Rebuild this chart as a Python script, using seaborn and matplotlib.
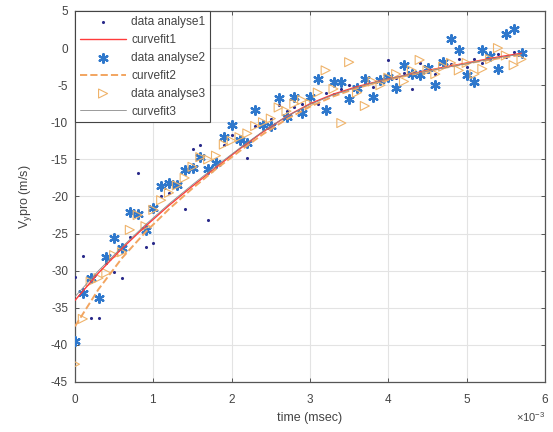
import numpy as np
import pandas as pd
import matplotlib
matplotlib.use("Agg")
import matplotlib.pyplot as plt
import seaborn as sns
from matplotlib.ticker import ScalarFormatter

# ---- data (time in ms, converted to s for plotting) ----
t_ms = [0.0, 0.1, 0.2, 0.3, 0.4, 0.5, 0.6, 0.7, 0.8, 0.9,
        1.0, 1.1, 1.2, 1.3, 1.4, 1.5, 1.6, 1.7, 1.8, 1.9,
        2.0, 2.1, 2.2, 2.3, 2.4, 2.5, 2.6, 2.7, 2.8, 2.9,
        3.0, 3.1, 3.2, 3.3, 3.4, 3.5, 3.6, 3.7, 3.8, 3.9,
        4.0, 4.1, 4.2, 4.3, 4.4, 4.5, 4.6, 4.7, 4.8, 4.9,
        5.0, 5.1, 5.2, 5.3, 5.4, 5.5, 5.6, 5.7]

data1 = [-30.8, -28.0, -36.4, -36.4, -29.0, -30.2, -31.0, -25.5, -16.9, -26.8,
         -26.3, -20.0, -19.5, -18.0, -21.7, -13.6, -13.0, -23.2, -15.0, -13.0,
         -11.7, -12.0, -14.8, -10.5, -10.0, -9.5, -7.7, -8.5, -8.0, -7.5,
         -7.0, -7.6, -6.0, -6.2, -5.5, -5.0, -5.8, -4.5, -5.2, -4.2,
         -1.6, -4.0, -3.3, -5.5, -2.0, -3.2, -3.5, -2.5, -2.2, -1.5,
         -2.5, -1.5, -2.0, -1.5, -0.8, -1.2, -0.5, -1.0]

data2 = [-39.5, -33.0, -31.0, -33.7, -28.2, -25.6, -27.0, -22.1, -22.3, -24.5,
         -21.5, -18.6, -18.2, -18.4, -16.4, -16.2, -14.7, -16.3, -15.5, -12.0,
         -10.4, -12.4, -12.8, -8.3, -10.4, -10.5, -6.7, -9.3, -6.6, -8.8,
         -6.6, -4.1, -8.3, -4.6, -4.6, -6.8, -5.4, -4.2, -6.6, -4.3,
         -3.9, -5.4, -2.3, -3.5, -3.6, -2.7, -5.0, -1.9, 1.2, -0.2,
         -3.6, -4.6, -0.2, -1.1, -2.8, 1.9, 2.6, -0.7]

data3 = [-42.6, -36.5, -31.5, -31.0, -30.3, -27.9, -27.5, -24.5, -22.5, -24.0,
         -21.8, -20.5, -19.5, -18.5, -17.5, -16.0, -14.7, -15.0, -14.5, -13.0,
         -12.5, -12.0, -11.5, -10.5, -10.0, -9.5, -8.0, -8.5, -7.5, -7.0,
         -7.5, -6.0, -3.0, -5.5, -10.1, -1.9, -6.0, -7.8, -4.5, -5.0,
         -4.0, -3.5, -4.5, -3.0, -1.6, -3.0, -3.5, -2.5, -2.0, -3.0,
         -2.0, -3.5, -2.8, -1.5, 0.0, -1.0, -2.3, -1.5]

tfit_ms = [0.0, 0.3, 0.6, 0.9, 1.2, 1.5, 1.8, 2.1, 2.4, 2.7,
           3.0, 3.3, 3.6, 3.9, 4.2, 4.5, 4.8, 5.1, 5.4, 5.7]
fit1 = [-34.0, -30.3, -27.0, -24.0, -21.2, -18.6, -16.1, -13.6, -11.3, -9.2,
        -7.5, -6.2, -5.2, -4.4, -3.7, -3.0, -2.4, -1.8, -1.2, -0.7]
fit2 = [-37.5, -32.5, -28.3, -24.8, -21.7, -18.9, -16.3, -13.9, -11.6, -9.6,
        -7.9, -6.5, -5.4, -4.5, -3.8, -3.1, -2.5, -1.9, -1.4, -0.9]
fit3 = [-33.5, -30.0, -26.8, -23.8, -21.0, -18.4, -15.9, -13.5, -11.2, -9.2,
        -7.6, -6.3, -5.3, -4.4, -3.7, -3.1, -2.5, -1.9, -1.3, -0.8]

labels = ["data analyse1", "curvefit1", "data analyse2", "curvefit2",
          "data analyse3", "curvefit3"]
x_ticks = [0, 1, 2, 3, 4, 5, 6]
y_ticks = [-45, -40, -35, -30, -25, -20, -15, -10, -5, 0, 5]

# ---- build frames ----
t_s = np.array(t_ms) * 1e-3
tf_s = np.array(tfit_ms) * 1e-3
d1 = pd.DataFrame({"t": t_s, "v": data1})
d2 = pd.DataFrame({"t": t_s, "v": data2})
d3 = pd.DataFrame({"t": t_s, "v": data3})
f1 = pd.DataFrame({"t": tf_s, "v": fit1})
f2 = pd.DataFrame({"t": tf_s, "v": fit2})
f3 = pd.DataFrame({"t": tf_s, "v": fit3})

sns.set_theme(style="whitegrid")
plt.rcParams["font.family"] = ["Liberation Sans", "DejaVu Sans"]
plt.rcParams["axes.unicode_minus"] = False
plt.rcParams["mathtext.fontset"] = "custom"
plt.rcParams["mathtext.rm"] = "Liberation Sans"
plt.rcParams["mathtext.it"] = "Liberation Sans"

fig = plt.figure(figsize=(5.53, 4.32), dpi=100)
ax = fig.add_axes([75 / 553, 1 - 382 / 432, 470 / 553, 371 / 432])
ax.set_facecolor("white")

c_d1 = "#2a2a8a"
c_d2 = "#2f78cc"
c_d3 = "#efb36a"
c_f1 = "#ff3b3b"
c_f2 = "#f2a560"
c_f3 = "#8a8a8a"

sns.scatterplot(data=d1, x="t", y="v", ax=ax, marker=".", s=20, color=c_d1,
                edgecolor=c_d1, linewidth=0, label=labels[0], zorder=3)
sns.lineplot(data=f1, x="t", y="v", ax=ax, color=c_f1, linewidth=1.0,
             errorbar=None, label=labels[1], zorder=4)
n1 = len(ax.collections)
sns.scatterplot(data=d2, x="t", y="v", ax=ax, marker=(6, 2, 0), s=40,
                color=c_d2, linewidth=1.6, label=labels[2], zorder=3)
c2 = ax.collections[n1]
c2.set_edgecolor(c_d2)
c2.set_facecolor(c_d2)
sns.lineplot(data=f2, x="t", y="v", ax=ax, color=c_f2, linewidth=1.4,
             errorbar=None, linestyle="--", label=labels[3], zorder=4)
n2 = len(ax.collections)
sns.scatterplot(data=d3, x="t", y="v", ax=ax, marker=">", s=42,
                color=c_d3, linewidth=0.8, label=labels[4], zorder=3)
c3 = ax.collections[n2]
c3.set_facecolor("none")
c3.set_edgecolor(c_d3)
sns.lineplot(data=f3, x="t", y="v", ax=ax, color=c_f3, linewidth=0.6,
             errorbar=None, label=labels[5], zorder=4)

ax.set_xlim(0, 0.006)
ax.set_ylim(-45, 5)
ax.set_xticks([v * 1e-3 for v in x_ticks])
ax.set_yticks(y_ticks)
fmt = ScalarFormatter(useMathText=True)
fmt.set_powerlimits((-2, 2))
ax.xaxis.set_major_formatter(fmt)
ax.xaxis.get_offset_text().set_fontsize(8)
ax.xaxis.get_offset_text().set_color("#555555")

ax.grid(True, color="#e3e3e3", linewidth=0.8)
for sp in ax.spines.values():
    sp.set_visible(True)
    sp.set_color("#555555")
    sp.set_linewidth(0.9)
ax.tick_params(direction="in", length=3, width=0.7, color="#555555",
               labelsize=8.5, labelcolor="#444444", top=True, right=True,
               bottom=True, left=True)
ax.tick_params(axis="x", pad=8)
ax.tick_params(axis="y", pad=5)

ax.set_xlabel("time (msec)", fontsize=9, color="#444444", labelpad=4)
ax.set_ylabel("V$_y$pro (m/s)", fontsize=9, color="#444444", labelpad=12)

leg = ax.legend(loc="upper left", fontsize=8.6, frameon=True, fancybox=False,
                borderaxespad=0, labelspacing=0.5, handlelength=3.9,
                borderpad=0.4, handletextpad=0.4)
leg.get_frame().set_edgecolor("#444444")
leg.get_frame().set_linewidth(0.8)
leg.get_frame().set_alpha(1)
for txt in leg.get_texts():
    txt.set_color("#444444")

fig.savefig("out.png", dpi=100, facecolor="white")
